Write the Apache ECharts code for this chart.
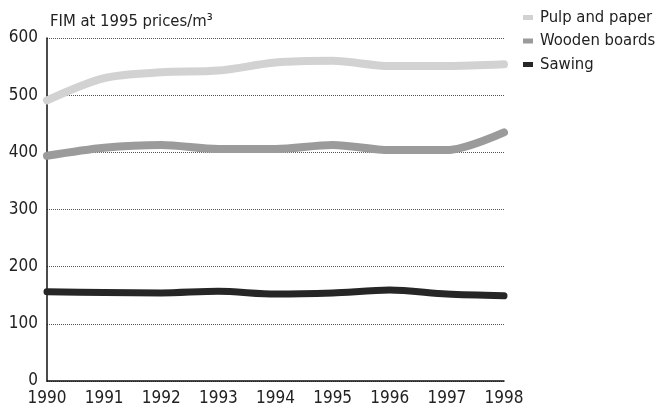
<!DOCTYPE html>
<html>
<head>
<meta charset="utf-8">
<script src="https://cdn.jsdelivr.net/npm/echarts@6/dist/echarts.min.js"></script>
<style>
  html, body { margin: 0; padding: 0; background: #fff; }
  #chart { width: 660px; height: 412px; }
</style>
</head>
<body>
<div id="chart"></div>
<script>
// Production value per cubic metre, FIM at 1995 prices
const years = ['1990', '1991', '1992', '1993', '1994', '1995', '1996', '1997', '1998'];
const pulpAndPaper = [491, 530, 540, 543, 557, 560, 551, 551, 554];
const woodenBoards = [394, 408, 413, 406, 406, 413, 404, 404, 435];
const sawing = [156, 155, 154, 157, 152, 154, 159, 152, 149];
const yTicks = [0, 100, 200, 300, 400, 500, 600];

const FONT = "'DejaVu Sans Condensed', 'Liberation Sans', sans-serif";
const chart = echarts.init(document.getElementById('chart'));

const lineSeries = (name, data, color, width) => ({
  name, type: 'line', data, smooth: 0.3, symbol: 'none',
  lineStyle: { color, width, cap: 'round' }, itemStyle: { color },
  z: 3
});

chart.setOption({
  animation: false,
  backgroundColor: '#fff',
  textStyle: { fontFamily: FONT },
  title: {
    text: 'FIM at 1995 prices/m³',
    left: 45, top: 8,
    textStyle: { fontFamily: FONT, fontSize: 16.5, fontWeight: 'normal', color: '#222' }
  },
  legend: {
    orient: 'vertical',
    left: 518, top: 4,
    itemGap: 6.5,
    itemWidth: 10, itemHeight: 5,
    icon: 'rect',
    textStyle: { fontFamily: FONT, fontSize: 16.5, color: '#222', padding: [0, 0, 0, 2] },
    data: ['Pulp and paper', 'Wooden boards', 'Sawing']
  },
  grid: { left: 47, right: 156, top: 38, bottom: 31 },
  xAxis: {
    type: 'category', data: years, boundaryGap: false,
    axisLine: { lineStyle: { color: '#111', width: 1.5 } },
    axisTick: { show: false },
    axisLabel: { fontFamily: FONT, fontSize: 17, color: '#222', margin: 9 },
    splitLine: { show: false }
  },
  yAxis: {
    type: 'value', min: yTicks[0], max: yTicks[yTicks.length - 1], interval: 100,
    axisLine: { show: true, lineStyle: { color: '#111', width: 1.5 } },
    axisTick: { show: false },
    axisLabel: { fontFamily: FONT, fontSize: 17, color: '#222', margin: 9 },
    splitLine: { lineStyle: { color: '#555', width: 1, type: [1, 1] } }
  },
  series: [
    lineSeries('Pulp and paper', pulpAndPaper, '#d2d2d2', 8),
    lineSeries('Wooden boards', woodenBoards, '#9b9b9b', 8),
    lineSeries('Sawing', sawing, '#262626', 7)
  ]
});
</script>
</body>
</html>
